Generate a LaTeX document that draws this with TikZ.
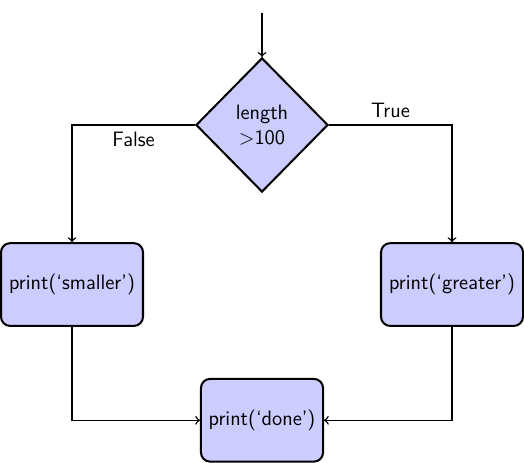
\documentclass[tikz,border=0pt]{standalone}
\usepackage{amsmath}
\usepackage{tikz}
\usetikzlibrary{shapes.geometric,positioning}

\begin{document}
\begin{tikzpicture}[scale=1,font=\sffamily\fontsize{11.3}{13.6}\selectfont,
    decision/.style={diamond,aspect=1,draw,line width=1.1pt,fill=blue!20,align=center,minimum width=2.52cm,minimum height=2.56cm,inner sep=0pt},
    block/.style={rectangle,draw,line width=1.1pt,fill=blue!20,rounded corners=5pt,align=center,minimum height=1.58cm},
    line/.style={draw,thick,->}]
  \useasboundingbox (0,0) rectangle (10,-8.835);
  \coordinate (start) at (5,-0.25);
  \node[decision] (len) at (5,-2.385) {length\\$>$100};
  \node[block,minimum width=2.71cm] (small) at (1.374,-5.43) {print(`smaller')};
  \node[block,minimum width=2.71cm] (great) at (8.626,-5.43) {print(`greater')};
  \node[block,minimum width=2.33cm] (done) at (5,-8.02) {print(`done')};
  \draw[line] (start) -- (len);
  \draw[line] (len.west) -| node[pos=0.25,below] {False} (small.north);
  \draw[line] (len.east) -| node[pos=0.25,above] {True} (great.north);
  \draw[line] (small.south) |- (done.west);
  \draw[line] (great.south) |- (done.east);
\end{tikzpicture}
\end{document}
